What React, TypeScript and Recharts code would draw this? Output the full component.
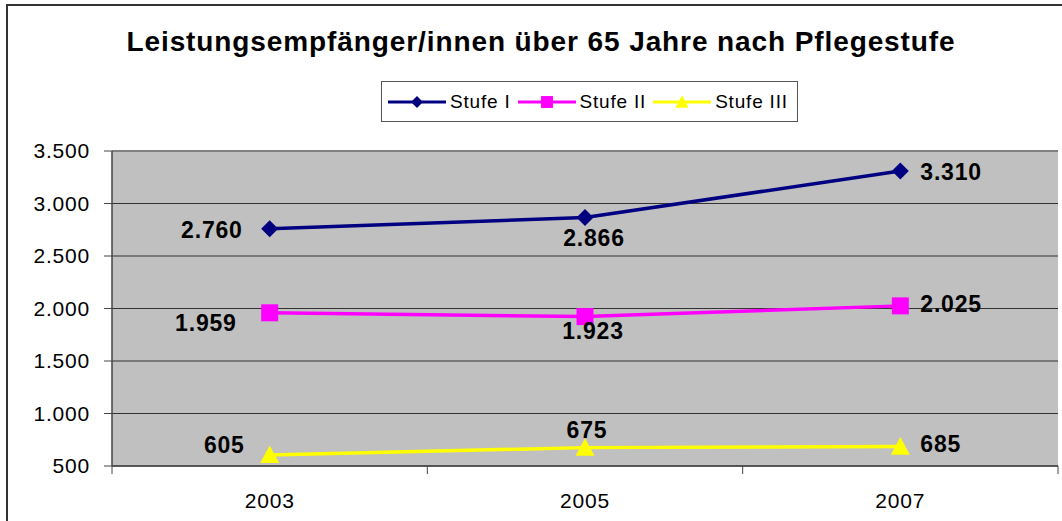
import { CartesianGrid, LabelList, Line, LineChart, ReferenceLine, XAxis, YAxis } from "recharts";

const years = ["2003", "2005", "2007"];
const stufe1 = [2760, 2866, 3310];
const stufe2 = [1959, 1923, 2025];
const stufe3 = [605, 675, 685];
const yTicks = [500, 1000, 1500, 2000, 2500, 3000, 3500];

const W = 1062;
const H = 521;
const MARGIN = { top: 151, right: 4, bottom: 0, left: 0 };
const Y_W = 112;
const PLOT_W = W - MARGIN.left - MARGIN.right - Y_W;
const HALF = PLOT_W / years.length / 2;
const FONT = "'Liberation Sans', Arial, sans-serif";

const data = years.map((year, i) => ({ year, s1: stufe1[i], s2: stufe2[i], s3: stufe3[i] }));

const series = [
  { key: "s1", name: "Stufe I", color: "#000080", shape: "diamond" },
  { key: "s2", name: "Stufe II", color: "#FF00FF", shape: "square" },
  { key: "s3", name: "Stufe III", color: "#FFFF00", shape: "triangle" },
];

// label placement per series, per point (Excel put them by hand)
const labelPlace: Record<string, { dx: number; dy: number; anchor: string }[]> = {
  s1: [
    { dx: -27, dy: 9, anchor: "end" },
    { dx: 9, dy: 28, anchor: "middle" },
    { dx: 20, dy: 9, anchor: "start" },
  ],
  s2: [
    { dx: -33, dy: 18, anchor: "end" },
    { dx: 8, dy: 22, anchor: "middle" },
    { dx: 20, dy: 6, anchor: "start" },
  ],
  s3: [
    { dx: -25, dy: -2, anchor: "end" },
    { dx: 2, dy: -10, anchor: "middle" },
    { dx: 20, dy: 5, anchor: "start" },
  ],
};

const fmt = (v: number) => String(v).replace(/\B(?=(\d{3})+(?!\d))/g, ".");

function Marker({ cx, cy, shape, color, size = 1 }: any) {
  if (cx == null || cy == null) return null;
  if (shape === "diamond") {
    const r = 8.5 * size;
    return <path d={`M${cx},${cy - r}L${cx + r},${cy}L${cx},${cy + r}L${cx - r},${cy}Z`} fill={color} />;
  }
  if (shape === "square") {
    const r = 8.5 * size;
    return <rect x={cx - r} y={cy - r} width={2 * r} height={2 * r} fill={color} />;
  }
  const r = 9.5 * size;
  return <path d={`M${cx},${cy - r}L${cx + r},${cy + r * 0.85}L${cx - r},${cy + r * 0.85}Z`} fill={color} />;
}

function makeLabel(key: string) {
  return (props: any) => {
    const { x, y, value, index } = props;
    const p = labelPlace[key][index];
    return (
      <text
        x={x + p.dx}
        y={y + p.dy}
        textAnchor={p.anchor}
        fontSize={23}
        fontWeight="bold"
        fontFamily={FONT}
        letterSpacing={0.8}
        fill="#000"
      >
        {fmt(value)}
      </text>
    );
  };
}

function XTick({ x, y, payload, index }: any) {
  return (
    <g>
      <line x1={x - HALF} y1={y} x2={x - HALF} y2={y + 8} stroke="#444" />
      {index === years.length - 1 && <line x1={x + HALF} y1={y} x2={x + HALF} y2={y + 8} stroke="#444" />}
      <text x={x} y={y + 42} textAnchor="middle" fontSize={21} letterSpacing={0.8} fontFamily={FONT} fill="#000">
        {payload.value}
      </text>
    </g>
  );
}

function LegendBox() {
  return (
    <div
      style={{
        position: "absolute",
        left: 381,
        top: 81,
        width: 417,
        height: 41,
        border: "1px solid #555",
        background: "#fff",
        display: "flex",
        alignItems: "center",
        paddingLeft: 6,
        boxSizing: "border-box",
        fontFamily: FONT,
        fontSize: 19,
        letterSpacing: 0.8,
      }}
    >
      {series.map((s) => (
        <div key={s.key} style={{ display: "flex", alignItems: "center", marginRight: 7 }}>
          <svg width={58} height={20}>
            <line x1={0} y1={10} x2={58} y2={10} stroke={s.color} strokeWidth={3} />
            <Marker cx={29} cy={10} shape={s.shape} color={s.color} size={0.7} />
          </svg>
          <span style={{ marginLeft: 4 }}>{s.name}</span>
        </div>
      ))}
    </div>
  );
}

export default function App() {
  return (
    <div style={{ position: "absolute", left: 0, top: 0, width: W, height: H, background: "#fff", overflow: "hidden" }}>
      <div style={{ position: "absolute", left: 6, top: 4, width: W, height: H, border: "2px solid #333" }} />
      <div
        style={{
          position: "absolute",
          left: 0,
          top: 25,
          width: W + 20,
          textAlign: "center",
          fontFamily: FONT,
          fontWeight: "bold",
          fontSize: 28,
          letterSpacing: 0.9,
          lineHeight: "34px",
        }}
      >
        Leistungsempfänger/innen über 65 Jahre nach Pflegestufe
      </div>
      <LegendBox />
      <div style={{ position: "absolute", left: 0, top: 0 }}>
        <LineChart width={W} height={H} data={data} margin={MARGIN}>
          <CartesianGrid vertical={false} stroke="#333" fill="#C0C0C0" />
          <XAxis
            dataKey="year"
            padding={{ left: HALF, right: HALF }}
            height={55}
            axisLine={{ stroke: "#444", strokeWidth: 1.5 }}
            tickLine={false}
            tickSize={0}
            tickMargin={0}
            tick={<XTick />}
            interval={0}
          />
          <YAxis
            domain={[500, 3500]}
            ticks={yTicks}
            width={Y_W}
            tickFormatter={fmt}
            axisLine={{ stroke: "#444", strokeWidth: 1.5 }}
            tickLine={{ stroke: "#444" }}
            tickSize={8}
            tickMargin={14}
            tick={{ fontSize: 21, fill: "#000", fontFamily: FONT, letterSpacing: 0.8 }}
          />
          <YAxis
            yAxisId="r"
            orientation="right"
            width={0}
            domain={[500, 3500]}
            axisLine={{ stroke: "#808080", strokeWidth: 2 }}
            tick={false}
            tickLine={false}
          />
          <ReferenceLine y={3500} stroke="#808080" strokeWidth={2} />
          {series.map((s) => (
            <Line
              key={s.key}
              dataKey={s.key}
              name={s.name}
              stroke={s.color}
              strokeWidth={3.5}
              type="linear"
              isAnimationActive={false}
              dot={(p: any) => <Marker key={`${s.key}-${p.index}`} cx={p.cx} cy={p.cy} shape={s.shape} color={s.color} />}
              activeDot={false}
            >
              <LabelList dataKey={s.key} content={makeLabel(s.key)} />
            </Line>
          ))}
        </LineChart>
      </div>
    </div>
  );
}
